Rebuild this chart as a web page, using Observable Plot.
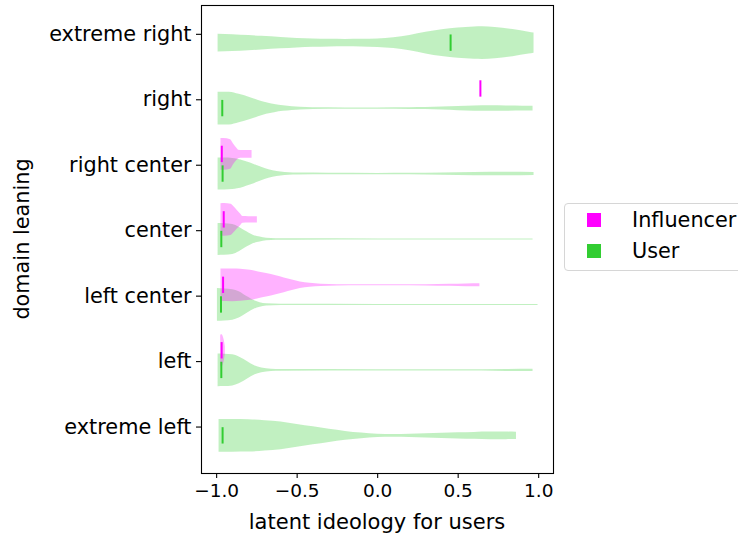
<!DOCTYPE html>
<html><head><meta charset="utf-8">
<script src="https://cdn.jsdelivr.net/npm/d3@7"></script>
<script src="https://cdn.jsdelivr.net/npm/@observablehq/plot@0.6"></script>
<style>
html,body{margin:0;padding:0;background:#fff;}
#wrap{position:relative;width:738px;height:539px;overflow:hidden;font-family:"DejaVu Sans",sans-serif;color:#000;}
.legend{position:absolute;left:564px;top:203px;width:200px;height:68px;border:1px solid #d6d6d6;border-radius:4px;box-sizing:border-box;background:#fff;}
.sw{position:absolute;width:14px;height:14px;}
.lt{position:absolute;font-size:20.8px;line-height:1;color:#000;white-space:nowrap;}
</style></head><body><div id="wrap"></div>
<script>
// categories, bottom to top (matplotlib positions 1..7)
const categories = ["extreme left","left","left center","center","right center","right","extreme right"];
const xTicks = [-1.0,-0.5,0.0,0.5,1.0];
const groups = ["Influencer","User"];
const groupColors = ["#ff00ff","#32cd32"];

// medians (vertical marks) per category, null = none
const userMedians = [-0.963,-0.971,-0.973,-0.971,-0.963,-0.965,0.453];
const influencerMedians = [null,-0.969,-0.960,-0.956,-0.968,0.638,null];

// violin profiles: [value, relative half-width (1 = widest)]
const userExtremeLeft = [[-0.985,1.0],[-0.9,1.0],[-0.8,0.99],[-0.7,0.93],[-0.6,0.85],[-0.5,0.7],[-0.4,0.55],[-0.3,0.4],[-0.2,0.27],[-0.1,0.17],[0.0,0.1],[0.1,0.085],[0.2,0.1],[0.3,0.13],[0.4,0.16],[0.5,0.19],[0.6,0.21],[0.7,0.23],[0.8,0.23],[0.862,0.22]];
const userLeft = [[-0.991,1.0],[-0.95,0.99],[-0.9,0.95],[-0.86,0.82],[-0.83,0.67],[-0.8,0.48],[-0.77,0.31],[-0.72,0.15],[-0.66,0.07],[-0.6,0.05],[0.0,0.04],[0.5,0.04],[0.8,0.06],[0.965,0.07]];
const userLeftCenter = [[-0.995,1.0],[-0.95,0.98],[-0.9,0.93],[-0.86,0.8],[-0.83,0.63],[-0.8,0.45],[-0.77,0.28],[-0.73,0.14],[-0.69,0.07],[-0.6,0.04],[0.0,0.035],[0.996,0.035]];
const userCenter = [[-0.991,0.98],[-0.95,0.97],[-0.9,0.92],[-0.86,0.75],[-0.83,0.56],[-0.8,0.4],[-0.77,0.25],[-0.73,0.15],[-0.69,0.08],[-0.63,0.05],[-0.5,0.04],[0.0,0.03],[0.5,0.03],[0.965,0.03]];
const userRightCenter = [[-0.991,0.98],[-0.95,0.98],[-0.9,0.95],[-0.87,0.9],[-0.83,0.8],[-0.79,0.67],[-0.75,0.52],[-0.7,0.34],[-0.65,0.2],[-0.6,0.12],[-0.55,0.08],[-0.5,0.06],[-0.3,0.05],[0.0,0.04],[0.2,0.05],[0.4,0.07],[0.6,0.1],[0.8,0.11],[0.971,0.09]];
const userRight = [[-0.991,1.0],[-0.92,1.0],[-0.86,0.87],[-0.79,0.67],[-0.74,0.5],[-0.69,0.35],[-0.64,0.25],[-0.585,0.17],[-0.53,0.11],[-0.48,0.08],[-0.4,0.05],[-0.2,0.04],[0.0,0.04],[0.2,0.05],[0.3,0.06],[0.4,0.09],[0.5,0.13],[0.6,0.16],[0.7,0.17],[0.8,0.16],[0.9,0.15],[0.965,0.15]];
const userExtremeRight = [[-0.991,0.54],[-0.9,0.51],[-0.8,0.46],[-0.72,0.42],[-0.6,0.35],[-0.5,0.29],[-0.4,0.25],[-0.3,0.23],[-0.2,0.22],[-0.1,0.23],[0.0,0.26],[0.1,0.33],[0.2,0.47],[0.3,0.66],[0.4,0.82],[0.5,0.93],[0.6,0.99],[0.65,1.0],[0.73,0.96],[0.84,0.83],[0.94,0.67],[0.971,0.62]];

const infLeft = [[-0.975,0.9],[-0.97,1.0],[-0.963,0.95],[-0.957,0.8],[-0.951,0.55],[-0.946,0.25]];
const infLeftCenter = [[-0.973,0.99],[-0.9,1.0],[-0.85,0.98],[-0.79,0.92],[-0.74,0.82],[-0.69,0.72],[-0.63,0.58],[-0.58,0.45],[-0.53,0.32],[-0.48,0.2],[-0.42,0.12],[-0.35,0.07],[-0.25,0.04],[-0.1,0.03],[0.1,0.03],[0.3,0.04],[0.45,0.06],[0.55,0.08],[0.635,0.09]];
const infCenter = [[-0.973,0.98],[-0.95,1.0],[-0.91,0.95],[-0.894,0.81],[-0.873,0.58],[-0.853,0.375],[-0.836,0.2],[-0.8,0.19],[-0.747,0.19]];
const infRightCenter = [[-0.973,0.97],[-0.955,0.97],[-0.913,0.9],[-0.894,0.62],[-0.873,0.36],[-0.863,0.26],[-0.84,0.24],[-0.78,0.24]];

const userProfiles = [userExtremeLeft,userLeft,userLeftCenter,userCenter,userRightCenter,userRight,userExtremeRight];
const infProfiles = [null,infLeft,infLeftCenter,infCenter,infRightCenter,null,null];

const violinWidth = 0.5;   // matplotlib widths
const dodge = 0.15;        // offset of each group from category position

function buildArea(profiles, off) {
  const out = [];
  profiles.forEach((p, i) => {
    if (!p) return;
    const pos = i + 1 + off;
    p.forEach(([x, w]) => out.push({cat: categories[i], x, lo: pos - w * violinWidth / 2, hi: pos + w * violinWidth / 2}));
  });
  return out;
}
function buildMed(meds, off) {
  const out = [];
  meds.forEach((m, i) => {
    if (m == null) return;
    const pos = i + 1 + off;
    out.push({cat: categories[i], m, y1: pos - violinWidth / 4, y2: pos + violinWidth / 4});
  });
  return out;
}

const userArea = buildArea(userProfiles, -dodge);
const infArea = buildArea(infProfiles, +dodge);
const userMed = buildMed(userMedians, -dodge);
const infMed = buildMed(influencerMedians, +dodge);

const chart = Plot.plot({
  width: 738, height: 539,
  marginLeft: 201, marginRight: 185, marginTop: 5, marginBottom: 66,
  style: {fontFamily: '"DejaVu Sans", sans-serif', color: "#000", background: "#fff", overflow: "visible"},
  x: {domain: [-1.094, 1.092], nice: false},
  y: {domain: [0.275, 7.425], nice: false},
  marks: [
    Plot.areaY(userArea, {x: "x", y1: "lo", y2: "hi", z: "cat", fill: groupColors[1], fillOpacity: 0.3, curve: "monotone-x"}),
    Plot.areaY(infArea, {x: "x", y1: "lo", y2: "hi", z: "cat", fill: groupColors[0], fillOpacity: 0.3, curve: "monotone-x"}),
    Plot.ruleX(infMed, {x: "m", y1: "y1", y2: "y2", stroke: groupColors[0], strokeWidth: 2}),
    Plot.ruleX(userMed, {x: "m", y1: "y1", y2: "y2", stroke: groupColors[1], strokeWidth: 2}),
    Plot.frame({stroke: "#000", strokeWidth: 1.1}),
    Plot.axisX({ticks: xTicks, tickFormat: d3.format(".1f"), tickSize: 5, tickPadding: 5, fontSize: 18.5, label: null, strokeWidth: 1.1}),
    Plot.axisY({ticks: d3.range(1, categories.length + 1), tickFormat: d => categories[d - 1], tickSize: 5, tickPadding: 5, fontSize: 20.8, label: null, strokeWidth: 1.1, dy: 1})
  ]
});

const wrap = document.getElementById("wrap");
wrap.appendChild(chart);

const svg = d3.select(chart);
svg.append("text").attr("x", 377).attr("y", 529).attr("text-anchor", "middle")
  .style("font-size", "21px").attr("fill", "#000").text("latent ideology for users");
svg.append("text").attr("transform", "translate(29,239) rotate(-90)").attr("text-anchor", "middle")
  .style("font-size", "20.8px").attr("fill", "#000").text("domain leaning");

// legend
const lg = document.createElement("div");
lg.className = "legend";
wrap.appendChild(lg);
groups.forEach((g, i) => {
  const sw = document.createElement("div");
  sw.className = "sw";
  sw.style.left = (587 - 564 - 1) + "px";
  sw.style.top = (213 + i * 31 - 203 - 1) + "px";
  sw.style.background = groupColors[i];
  lg.appendChild(sw);
  const t = document.createElement("div");
  t.className = "lt";
  t.style.left = (632 - 564 - 1) + "px";
  t.style.top = (210 + i * 31 - 203 - 1) + "px";
  t.textContent = g;
  lg.appendChild(t);
});
</script></body></html>
